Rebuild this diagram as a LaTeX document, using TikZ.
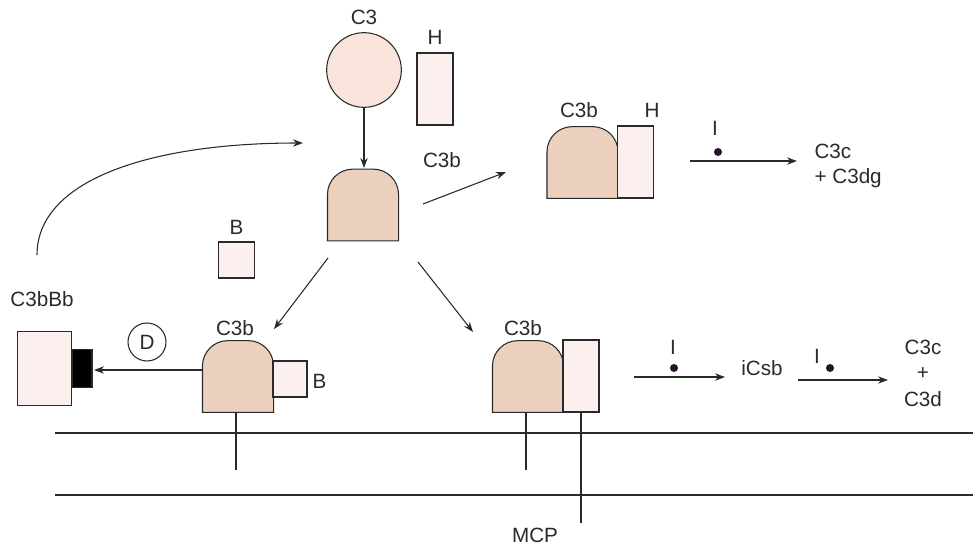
\documentclass[tikz,border=0pt]{standalone}
\usepackage{fontspec}
\setmainfont{Liberation Sans}
\usetikzlibrary{arrows.meta}
\definecolor{domefill}{HTML}{EBD0BE}
\definecolor{c3fill}{HTML}{F8E4DA}
\definecolor{palefill}{HTML}{FCF0EE}
\definecolor{ink}{HTML}{2A2A2A}
\definecolor{dotink}{HTML}{2B0F2E}

% a C3b "dome": square body with a rounded top, drawn over a named frame node
\newcommand{\domeat}[2]{%
  \node[inner sep=0pt, minimum width=52.5pt, minimum height=53pt] (#1) at #2 {};
  \draw[domebody] (#1.south west) [rounded corners=19pt] -- (#1.north west)
    -- (#1.north east) [sharp corners] -- (#1.south east) -- cycle;}

\begin{document}
\begin{tikzpicture}[x=0.75pt, y=-0.75pt, line width=0.8pt,
  lbl/.style={font=\fontsize{15.5}{18}\selectfont, text=ink, inner sep=0pt},
  domebody/.style={draw=ink, fill=domefill},
  pale/.style={draw=ink, fill=palefill, inner sep=0pt},
  arr/.style={draw=ink, -{Stealth[length=7.5pt, width=5.5pt]}},
  plain/.style={draw=ink},
  idot/.style={circle, fill=dotink, inner sep=0pt, minimum size=6pt}]

\useasboundingbox (0,0) rectangle (973,547);

% --- fluid phase: C3, H, C3b, B ---
\node[circle, draw=ink, fill=c3fill, inner sep=0pt, minimum size=56pt] (c3) at (364,70) {};
\node[lbl] (c3lbl) at (364,17) {C3};
\node[pale, minimum width=27pt, minimum height=54pt] (hfree) at (435,89) {};
\node[lbl] (hfreelbl) at (435,37) {H};
\domeat{dmain}{(363,205)}
\node[lbl] (dmainlbl) at (442,160) {C3b};
\node[pale, minimum width=27.5pt, minimum height=27pt] (bfree) at (236.5,260) {};
\node[lbl] (bfreelbl) at (236.5,227) {B};

% --- fluid-phase C3b.H complex and its cleavage ---
\domeat{dh}{(582.5,162.5)}
\node[pale, minimum width=27.5pt, minimum height=54pt] (hbound) at (635.5,162) {};
\node[lbl] (dhlbl) at (579,110) {C3b};
\node[lbl] (hboundlbl) at (652,110) {H};
\node[lbl] (ilbl1) at (715,128) {I};
\node[idot] (idot1) at (718,152) {};
\coordinate (a1s) at (690,161);
\coordinate (a1e) at (797,161);
\node[lbl, anchor=west] (prod1a) at (814,151) {C3c};
\node[lbl, anchor=west] (prod1b) at (814,178) {+ C3dg};

% --- surface-bound C3b with B, and the convertase ---
\domeat{dsb}{(238,376.5)}
\node[lbl] (dsblbl) at (235,328) {C3b};
\node[pale, minimum width=25.5pt, minimum height=27pt] (bbound) at (290,379) {};
\node[lbl, anchor=west] (bboundlbl) at (312,381) {B};
\node[pale, minimum width=41pt, minimum height=55pt] (conv) at (44.5,368.5) {};
\node[draw=ink, fill=black, inner sep=0pt, minimum width=15pt, minimum height=29pt] (bb) at (82,368.5) {};
\node[lbl] (convlbl) at (42,299) {C3bBb};
\node[circle, draw=ink, inner sep=0pt, minimum size=28.5pt, lbl] (fd) at (147,342) {D};

% --- surface-bound C3b with MCP and its cleavage ---
\domeat{dmcp}{(528,376.5)}
\node[lbl] (dmcplbl) at (523,328) {C3b};
\node[pale, minimum width=27pt, minimum height=54pt] (mcp) at (581,376) {};
\node[lbl] (mcplbl) at (535,535) {MCP};
\node[lbl] (ilbl2) at (673,347) {I};
\node[idot] (idot2) at (674,368) {};
\node[lbl] (icsb) at (762,368) {iCsb};
\node[lbl] (ilbl3) at (817,356) {I};
\node[idot] (idot3) at (830,368) {};
\node[lbl] (prod2a) at (923,347) {C3c};
\node[lbl] (prod2b) at (923,374) {+};
\node[lbl] (prod2c) at (923,399) {C3d};

% --- membrane and anchors ---
\coordinate (memAl) at (55,433);  \coordinate (memAr) at (973,433);
\coordinate (memBl) at (55,495);  \coordinate (memBr) at (973,495);
\draw[plain] (memAl) -- (memAr);
\draw[plain] (memBl) -- (memBr);
\coordinate (stalk1) at (236,470);
\coordinate (stalk2) at (526,470);
\coordinate (stalk3) at (581,523);
\draw[plain] (dsb.south -| stalk1) -- (stalk1);
\draw[plain] (dmcp.south -| stalk2) -- (stalk2);
\draw[plain] (mcp.south -| stalk3) -- (stalk3);

% --- reaction arrows ---
\draw[arr] (c3.south) -- (364,168);
\coordinate (toH1) at (423,204);  \coordinate (toH2) at (506,172);
\draw[arr] (toH1) -- (toH2);
\coordinate (toB1) at (328,258);  \coordinate (toB2) at (274,329);
\draw[arr] (toB1) -- (toB2);
\coordinate (toM1) at (418,262);  \coordinate (toM2) at (473,332);
\draw[arr] (toM1) -- (toM2);
\draw[arr] (a1s) -- (a1e);
\coordinate (toD1) at (203,370);  \coordinate (toD2) at (94,370);
\draw[arr] (toD1) -- (toD2);
\coordinate (loop1) at (37,255);  \coordinate (loop2) at (303,143);
\draw[arr] (loop1) .. controls (37,180) and (150,143) .. (loop2);
\coordinate (c1s) at (634,377);  \coordinate (c1e) at (725,377);
\draw[arr] (c1s) -- (c1e);
\coordinate (c2s) at (798,380);  \coordinate (c2e) at (888,380);
\draw[arr] (c2s) -- (c2e);
\end{tikzpicture}
\end{document}
